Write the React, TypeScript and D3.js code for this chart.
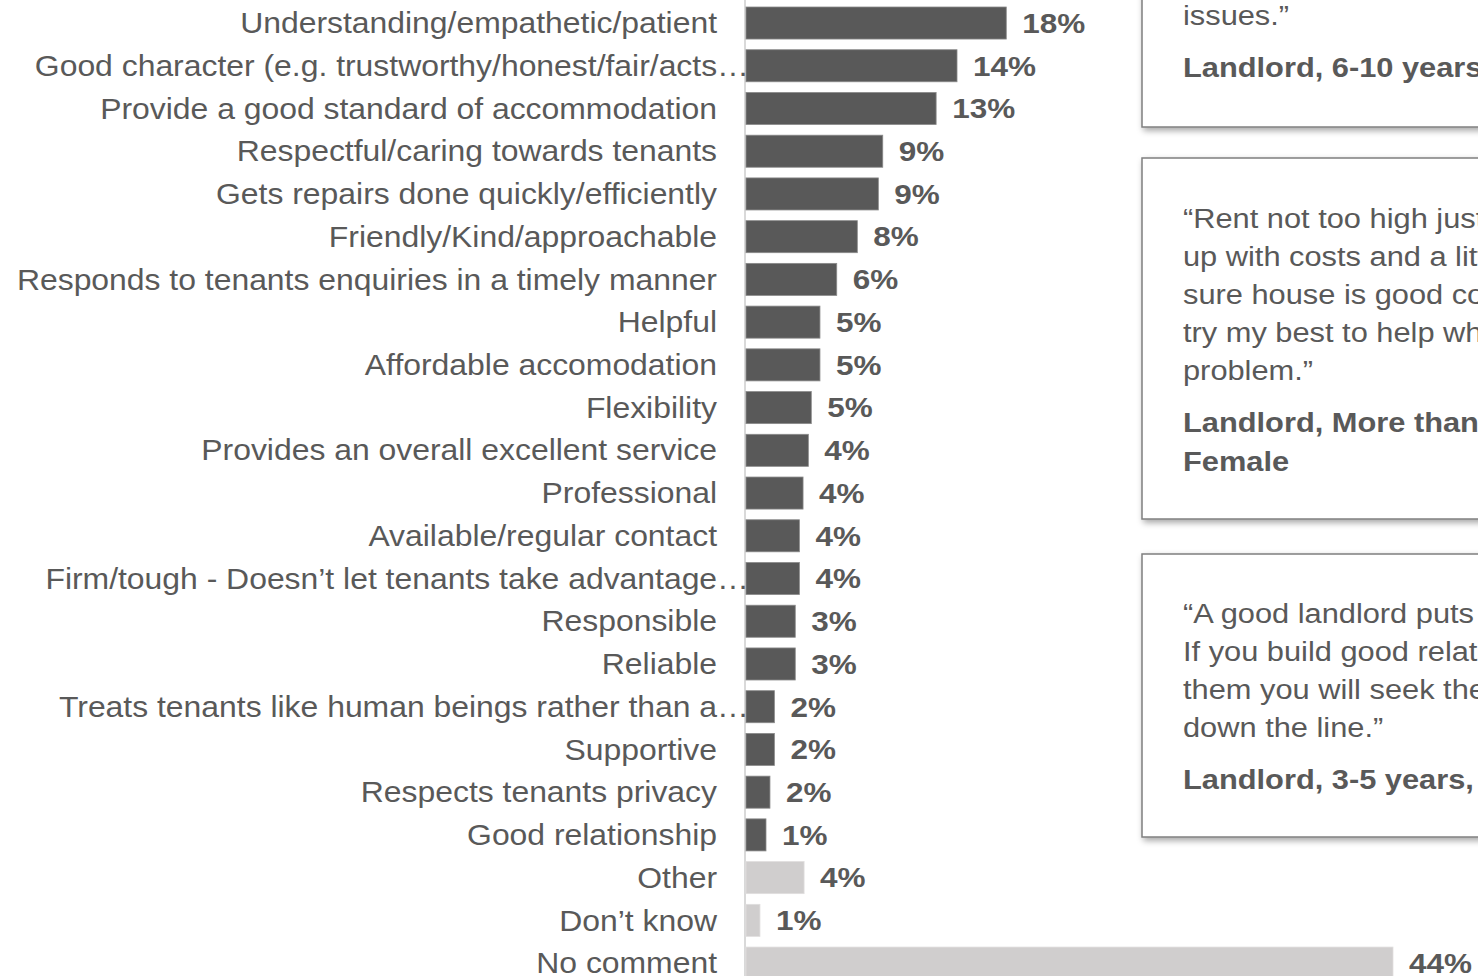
import React from "react";
import * as d3 from "d3";

const categories = [
  "Understanding/empathetic/patient",
  "Good character (e.g. trustworthy/honest/fair/acts…",
  "Provide a good standard of accommodation",
  "Respectful/caring towards tenants",
  "Gets repairs done quickly/efficiently",
  "Friendly/Kind/approachable",
  "Responds to tenants enquiries in a timely manner",
  "Helpful",
  "Affordable accomodation",
  "Flexibility",
  "Provides an overall excellent service",
  "Professional",
  "Available/regular contact",
  "Firm/tough - Doesn’t let tenants take advantage…",
  "Responsible",
  "Reliable",
  "Treats tenants like human beings rather than a…",
  "Supportive",
  "Respects tenants privacy",
  "Good relationship",
  "Other",
  "Don’t know",
  "No comment",
];

const values = [
  17.7, 14.35, 12.93, 9.3, 9.0, 7.57, 6.17, 5.03, 5.03, 4.44, 4.24, 3.88, 3.63,
  3.63, 3.35, 3.35, 1.93, 1.93, 1.63, 1.36, 3.95, 0.95, 44,
];

const valueLabels = [
  "18%", "14%", "13%", "9%", "9%", "8%", "6%", "5%", "5%", "5%", "4%", "4%",
  "4%", "4%", "3%", "3%", "2%", "2%", "2%", "1%", "4%", "1%", "44%",
];

const isOther = [
  false, false, false, false, false, false, false, false, false, false, false,
  false, false, false, false, false, false, false, false, false, true, true, true,
];

const quote1Lines = ["issues.”"];
const quote1Source = ["Landlord, 6-10 years, Male"];
const quote2Lines = [
  "“Rent not too high just to keep",
  "up with costs and a little profit, make",
  "sure house is good condition and I",
  "try my best to help when there is a",
  "problem.”",
];
const quote2Source = ["Landlord, More than 10 years,", "Female"];
const quote3Lines = [
  "“A good landlord puts tenants first.",
  "If you build good relationships with",
  "them you will seek the benefits",
  "down the line.”",
];
const quote3Source = ["Landlord, 3-5 years, Male"];

const W = 1478;
const H = 976;
const DARK = "#595959";
const LIGHT = "#d0cece";
const TEXT = "#595959";
const FONT = "'Liberation Sans', Arial, sans-serif";
const SX_LABEL = 1.1;
const SX_VALUE = 1.125;
const SX_QUOTE = 1.1;

function QuoteBox({
  top,
  bottom,
  lines,
  source,
  firstBaseline,
}: {
  top: number;
  bottom: number;
  lines: string[];
  source: string[];
  firstBaseline: number;
}) {
  const lineH = 38;
  const lastLine = firstBaseline + (lines.length - 1) * lineH;
  return (
    <g>
      <rect
        x={1142}
        y={top}
        width={500}
        height={bottom - top}
        fill="#ffffff"
        stroke="#7f7f7f"
        strokeWidth={1.5}
        filter="url(#shadow)"
      />
      {lines.map((l, i) => (
        <text
          key={"l" + i}
          transform={`translate(1183,${firstBaseline + i * lineH}) scale(${SX_QUOTE},1)`}
          fontSize={28}
          fill={TEXT}
          fontFamily={FONT}
        >
          {l}
        </text>
      ))}
      {source.map((l, i) => (
        <text
          key={"s" + i}
          transform={`translate(1183,${lastLine + 52 + i * 39}) scale(${SX_QUOTE},1)`}
          fontSize={28}
          fontWeight="bold"
          fill={TEXT}
          fontFamily={FONT}
        >
          {l}
        </text>
      ))}
    </g>
  );
}

export default function App() {
  const step = 42.73;
  const pad = 0.25;
  const firstBandTop = 7;
  const y = d3
    .scaleBand<string>()
    .domain(categories)
    .range([
      firstBandTop - pad * step,
      firstBandTop - pad * step + step * (categories.length + pad),
    ])
    .paddingInner(pad)
    .paddingOuter(pad);
  const x = d3.scaleLinear().domain([0, 44]).range([746, 1393]);

  return (
    <svg
      width={W}
      height={H}
      style={{ position: "absolute", left: 0, top: 0, background: "#fff" }}
      fontFamily={FONT}
    >
      <defs>
        <filter id="shadow" x="-10%" y="-10%" width="130%" height="130%">
          <feDropShadow dx="2" dy="3" stdDeviation="3" floodColor="#000" floodOpacity="0.35" />
        </filter>
      </defs>
      <rect x={0} y={0} width={W} height={H} fill="#fff" />
      <line x1={745} x2={745} y1={0} y2={H} stroke="#d9d9d9" strokeWidth={2} />
      {categories.map((c, i) => {
        const yy = y(c)!;
        const bw = y.bandwidth();
        const cy = yy + bw / 2;
        const truncated = c.endsWith("…");
        const lx = truncated ? 749 : 717;
        return (
          <g key={c}>
            <rect
              x={x(0)}
              y={yy}
              width={x(values[i]) - x(0)}
              height={bw}
              fill={isOther[i] ? LIGHT : DARK}
              stroke={isOther[i] ? "#e0dede" : "#8a8a8a"}
              strokeWidth={0.8}
            />
            <text
              transform={`translate(${lx},${cy}) scale(${SX_LABEL},1)`}
              dy="0.35em"
              textAnchor="end"
              fontSize={29}
              fill={TEXT}
            >
              {c}
            </text>
            <text
              transform={`translate(${x(values[i]) + 16},${cy}) scale(${SX_VALUE},1)`}
              dy="0.35em"
              fontSize={28}
              fontWeight="bold"
              fill={TEXT}
            >
              {valueLabels[i]}
            </text>
          </g>
        );
      })}
      <QuoteBox top={-200} bottom={127} lines={quote1Lines} source={quote1Source} firstBaseline={25} />
      <QuoteBox top={158} bottom={519} lines={quote2Lines} source={quote2Source} firstBaseline={228} />
      <QuoteBox top={554} bottom={837} lines={quote3Lines} source={quote3Source} firstBaseline={623} />
    </svg>
  );
}
